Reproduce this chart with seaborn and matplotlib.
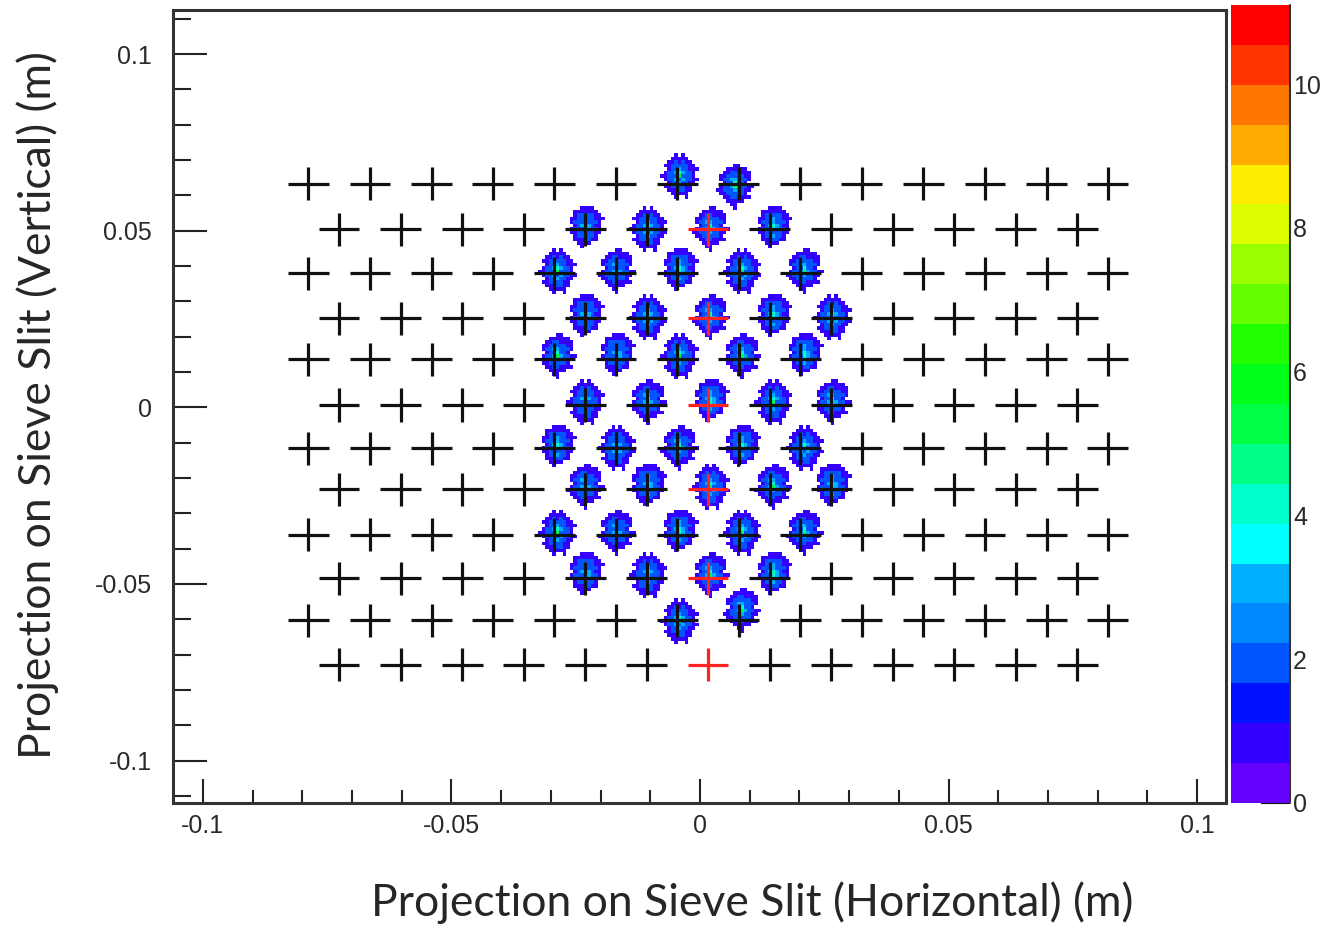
import numpy as np
import matplotlib
matplotlib.use('Agg')
import matplotlib.pyplot as plt
from matplotlib.colors import ListedColormap
from matplotlib.ticker import MultipleLocator, FuncFormatter
import seaborn as sns

sns.set_style('white')
plt.rcParams['font.family'] = ['Liberation Sans', 'DejaVu Sans']

# sieve hole positions (m)
even_x = [-0.0788, -0.0664, -0.0540, -0.0417, -0.0293, -0.0169, -0.0046,
          0.0078, 0.0202, 0.0325, 0.0449, 0.0573, 0.0697, 0.0820]
odd_x = [-0.0726, -0.0602, -0.0478, -0.0355, -0.0231, -0.0107, 0.0016,
         0.0140, 0.0264, 0.0388, 0.0511, 0.0635, 0.0759]
even_y = [0.0633, 0.0380, 0.0136, -0.0116, -0.0360, -0.0603]
odd_y = [0.0504, 0.0252, 0.0007, -0.0232, -0.0484, -0.0728]
red_col = 6  # index in odd_x of the central (red) column

# centres of the hit clusters (m)
blob_x = [-0.0042, 0.0068,
          -0.0231, -0.0107, 0.0016, 0.0141,
          -0.0292, -0.0169, -0.0042, 0.0080, 0.0205,
          -0.0231, -0.0107, 0.0016, 0.0141, 0.0266,
          -0.0292, -0.0169, -0.0042, 0.0080, 0.0205,
          -0.0231, -0.0107, 0.0016, 0.0141, 0.0266,
          -0.0292, -0.0169, -0.0042, 0.0080, 0.0205,
          -0.0231, -0.0107, 0.0016, 0.0141, 0.0266,
          -0.0292, -0.0169, -0.0042, 0.0080, 0.0205,
          -0.0231, -0.0107, 0.0016, 0.0141,
          -0.0042, 0.0082]
blob_y = [0.0648, 0.0623,
          0.0500, 0.0500, 0.0500, 0.0500,
          0.0380, 0.0380, 0.0380, 0.0380, 0.0380,
          0.0252, 0.0252, 0.0252, 0.0252, 0.0252,
          0.0136, 0.0136, 0.0136, 0.0136, 0.0136,
          0.0007, 0.0007, 0.0007, 0.0007, 0.0007,
          -0.0116, -0.0116, -0.0116, -0.0116, -0.0116,
          -0.0232, -0.0232, -0.0232, -0.0232, -0.0232,
          -0.0360, -0.0360, -0.0360, -0.0360, -0.0360,
          -0.0484, -0.0484, -0.0484, -0.0484,
          -0.0607, -0.0585]

# counts per bin in a cluster (top row first)
templates = [
    ["00001010000",
     "00011111000",
     "00112121100",
     "01122222110",
     "00122322111",
     "01223432210",
     "11222522210",
     "01223232211",
     "00122322110",
     "01122221100",
     "00111221100",
     "00011111000",
     "00001001000"],
    ["00000110000",
     "00011111100",
     "00112211110",
     "01122222110",
     "01223322210",
     "00122422100",
     "01223532211",
     "11222322110",
     "01122222100",
     "00112211110",
     "00011111000",
     "00001100000",
     "00000100000"],
    ["00001111000",
     "00111111100",
     "00122222110",
     "01122322111",
     "01222322210",
     "00123432110",
     "01222432210",
     "01122222110",
     "00122322100",
     "00111221100",
     "00011110000",
     "00001000000",
     "00000000000"],
]

palette = ['#6600ff', '#3300ff', '#0011ff', '#0055ff', '#0088ff',
           '#00b0ff', '#00ffff', '#00ffcc', '#00ff88', '#00ff44',
           '#00ff1a', '#22ff00', '#66ff00', '#99ff00', '#ddff00',
           '#ffee00', '#ffaa00', '#ff7700', '#ff3300', '#ff0000']
count_max = 11.1
cbar_ticks = [0, 2, 4, 6, 8, 10]

x_lo, x_hi = -0.106, 0.1058
y_lo, y_hi = -0.112, 0.1125
bin_x, bin_y = 0.0007, 0.001

x_edges = x_lo + bin_x * np.arange(int((x_hi - x_lo) / bin_x) + 2)
y_edges = y_lo + bin_y * np.arange(int((y_hi - y_lo) / bin_y) + 2)

# turn the cluster templates into weighted bin entries
hx, hy, hw = [], [], []
for i, (cx, cy) in enumerate(zip(blob_x, blob_y)):
    tpl = templates[i % len(templates)]
    ix0 = int(round((cx - x_lo) / bin_x))
    iy0 = int(round((cy - y_lo) / bin_y))
    nr, nc = len(tpl), len(tpl[0])
    for r, line in enumerate(tpl):
        for c, ch in enumerate(line):
            n = int(ch)
            if n == 0:
                continue
            ix = ix0 + c - nc // 2
            iy = iy0 + nr // 2 - r
            hx.append(x_lo + (ix + 0.5) * bin_x)
            hy.append(y_lo + (iy + 0.5) * bin_y)
            hw.append(n)

fig = plt.figure(figsize=(13.27, 9.25), dpi=100)
ax = fig.add_axes([0.1304, 0.1319, 0.7935, 0.8573])
cax = fig.add_axes([0.9277, 0.1319, 0.0445, 0.8627])

cmap = ListedColormap(palette)
sns.histplot(x=hx, y=hy, weights=hw, bins=(x_edges, y_edges), cmap=cmap,
             vmin=0, vmax=count_max, cbar=True, cbar_ax=cax, ax=ax)
mesh = ax.collections[0]
mesh.set_clim(0, count_max)

# sieve hole markers
bx, by = [], []
for y in even_y:
    for x in even_x:
        bx.append(x); by.append(y)
rx, ry = [], []
for y in odd_y:
    for k, x in enumerate(odd_x):
        if k == red_col:
            rx.append(x); ry.append(y)
        else:
            bx.append(x); by.append(y)
ax.errorbar(bx, by, xerr=0.0041, yerr=0.0047, fmt='none', ecolor='#111111',
            elinewidth=2.3, capsize=0, zorder=3)
ax.errorbar(rx, ry, xerr=0.0041, yerr=0.0047, fmt='none', ecolor='#ff2222',
            elinewidth=2.3, capsize=0, zorder=3)

ax.set_xlim(x_lo, x_hi)
ax.set_ylim(y_lo, y_hi)

fmt = FuncFormatter(lambda v, p: ('%g' % round(v, 4)).replace('\u2212', '-'))
for axis in (ax.xaxis, ax.yaxis):
    axis.set_major_locator(MultipleLocator(0.05))
    axis.set_minor_locator(MultipleLocator(0.01))
    axis.set_major_formatter(fmt)

ax.tick_params(axis='x', which='both', direction='in', top=False, bottom=True,
               width=1.5, color='#222222', labelsize=18, labelcolor='#2a2a2a', pad=8)
ax.tick_params(axis='x', which='major', length=17)
ax.tick_params(axis='x', which='minor', length=9.5)
ax.tick_params(axis='y', which='both', direction='in', left=True, right=False,
               width=1.5, color='#222222', labelsize=18, labelcolor='#2a2a2a', pad=15)
ax.tick_params(axis='y', which='major', length=24.5)
ax.tick_params(axis='y', which='minor', length=13)

for sp in ax.spines.values():
    sp.set_linewidth(2.2)
    sp.set_color('#333333')

label_font = ['Lato', 'DejaVu Sans']
ax.set_xlabel('Projection on Sieve Slit (Horizontal) (m)', fontsize=32,
              family=label_font, va='center')
ax.xaxis.set_label_coords(0.55, -0.126)
ax.set_ylabel('Projection on Sieve Slit (Vertical) (m)', fontsize=32,
              family=label_font, va='center')
ax.yaxis.set_label_coords(-0.129, 0.502)

# colour scale
cbar = mesh.colorbar
cbar.outline.set_visible(False)
cax.set_yticks(cbar_ticks)
cax.yaxis.set_ticks_position('right')
cax.tick_params(axis='y', which='major', direction='in', length=21, width=1.5,
                color='#111111', labelsize=18, labelcolor='#2a2a2a', pad=2)
cax.minorticks_off()
cax.plot([1, 1], [0, 1], transform=cax.transAxes, color='#333333', lw=1.5,
         clip_on=False)

fig.savefig('out.png', dpi=100)
